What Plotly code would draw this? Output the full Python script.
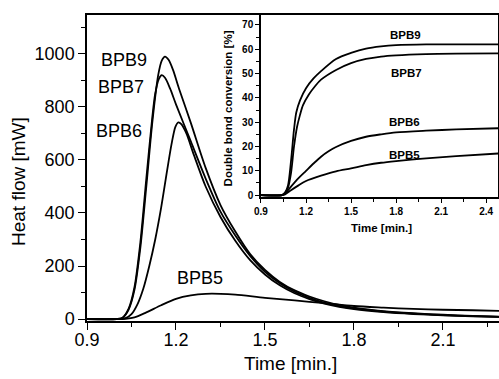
import plotly.graph_objects as go

# ---- main panel: heat flow [mW] vs time [min.] ----
t_bpb9 = [0.90, 1.00, 1.02, 1.04, 1.06, 1.08, 1.10, 1.12, 1.14, 1.152, 1.163, 1.175, 1.19, 1.21, 1.25, 1.30,
          1.35, 1.40, 1.45, 1.50, 1.55, 1.60, 1.65, 1.70, 1.75, 1.80, 1.90, 2.00, 2.10, 2.20, 2.29]
h_bpb9 = [0, 0, 5, 35, 110, 270, 500, 740, 920, 975, 990, 978, 940, 870, 740, 570,
          430, 330, 245, 185, 140, 108, 85, 67, 53, 43, 30, 22, 16, 12, 9]

t_bpb7 = [0.90, 1.00, 1.02, 1.04, 1.06, 1.08, 1.10, 1.12, 1.13, 1.142, 1.152, 1.163, 1.18, 1.20, 1.25, 1.30,
          1.35, 1.40, 1.45, 1.50, 1.55, 1.60, 1.65, 1.70, 1.75, 1.80, 1.90, 2.00, 2.10, 2.20, 2.29]
h_bpb7 = [0, 0, 5, 38, 120, 290, 530, 760, 850, 905, 920, 910, 870, 810, 670, 530,
          405, 315, 238, 178, 135, 103, 80, 62, 49, 40, 28, 20, 15, 11, 8]

t_bpb6 = [0.90, 1.00, 1.03, 1.05, 1.07, 1.09, 1.11, 1.13, 1.15, 1.17, 1.185, 1.198, 1.208, 1.218, 1.235,
          1.26, 1.30, 1.35, 1.40, 1.45, 1.50, 1.55, 1.60, 1.65, 1.70, 1.75, 1.80, 1.90, 2.00, 2.10, 2.20, 2.29]
h_bpb6 = [0, 0, 3, 18, 55, 115, 200, 300, 420, 560, 660, 725, 742, 735, 700,
          620, 500, 385, 295, 222, 168, 127, 97, 75, 58, 46, 37, 26, 19, 14, 10, 8]

t_bpb5 = [0.90, 1.00, 1.03, 1.06, 1.10, 1.15, 1.20, 1.25, 1.30, 1.35, 1.40, 1.50, 1.60, 1.70, 1.80,
          1.90, 2.00, 2.10, 2.20, 2.29]
h_bpb5 = [0, 0, 1, 6, 25, 52, 76, 89, 95, 95, 92, 80, 70, 60, 49, 43, 38, 35, 33, 31]

# ---- inset: double bond conversion [%] vs time [min.] ----
ti_bpb9 = [0.90, 1.04, 1.06, 1.08, 1.10, 1.12, 1.135, 1.16, 1.20, 1.25, 1.30, 1.40, 1.50, 1.60, 1.70,
           1.80, 2.00, 2.20, 2.48]
c_bpb9 = [0, 0, 1, 4, 14, 27, 34, 39, 44, 48, 51, 56, 58.5, 60.3, 61.2, 61.7, 62, 62, 62]

ti_bpb7 = [0.90, 1.04, 1.06, 1.08, 1.10, 1.12, 1.14, 1.16, 1.18, 1.22, 1.26, 1.30, 1.40, 1.50, 1.60,
           1.70, 1.80, 2.00, 2.20, 2.48]
c_bpb7 = [0, 0, 0.8, 3, 9, 20, 28, 33, 37, 41.5, 44.8, 47.5, 51.5, 54.3, 56, 57, 57.5, 58, 58.2, 58.3]

ti_bpb6 = [0.90, 1.04, 1.06, 1.10, 1.15, 1.20, 1.25, 1.30, 1.35, 1.40, 1.50, 1.60, 1.70, 1.80, 2.00,
           2.20, 2.48]
c_bpb6 = [0, 0, 0.5, 3.5, 7, 10, 13, 15.8, 18, 19.8, 22.3, 24, 25, 25.8, 26.5, 27, 27.5]

ti_bpb5 = [0.90, 1.04, 1.06, 1.10, 1.15, 1.20, 1.30, 1.40, 1.50, 1.60, 1.70, 1.80, 1.90, 2.00, 2.20, 2.48]
c_bpb5 = [0, 0, 0.3, 2, 4, 5.8, 8, 9.8, 11, 12.3, 13.3, 14, 14.6, 15.1, 16, 17.1]

series_names = ["BPB9", "BPB7", "BPB6", "BPB5"]
main_x_ticks = [0.9, 1.2, 1.5, 1.8, 2.1]
main_y_ticks = [0, 200, 400, 600, 800, 1000]
inset_x_ticks = [0.9, 1.2, 1.5, 1.8, 2.1, 2.4]
inset_y_ticks = [0, 10, 20, 30, 40, 50, 60, 70]

FONT = "Liberation Sans, Arial, sans-serif"
LW = 1.8

fig = go.Figure()
for tx, hy in [(t_bpb9, h_bpb9), (t_bpb7, h_bpb7), (t_bpb6, h_bpb6), (t_bpb5, h_bpb5)]:
    fig.add_trace(go.Scatter(x=tx, y=hy, mode="lines",
                             line=dict(color="black", width=LW, shape="spline", smoothing=0.8),
                             xaxis="x", yaxis="y", showlegend=False, hoverinfo="skip"))
for tx, cy in [(ti_bpb9, c_bpb9), (ti_bpb7, c_bpb7), (ti_bpb6, c_bpb6), (ti_bpb5, c_bpb5)]:
    fig.add_trace(go.Scatter(x=tx, y=cy, mode="lines",
                             line=dict(color="black", width=LW, shape="spline", smoothing=0.8),
                             xaxis="x2", yaxis="y2", showlegend=False, hoverinfo="skip"))

axis_common = dict(showgrid=False, zeroline=False, showline=True, linecolor="black", linewidth=1.5,
                   ticks="outside", tickcolor="black", tickwidth=1.3)

fig.update_layout(
    width=499, height=379,
    margin=dict(l=87, r=0, t=15, b=58),
    paper_bgcolor="white", plot_bgcolor="white",
    font=dict(family=FONT, color="black"),
    xaxis=dict(**axis_common, mirror=True, domain=[0, 1], range=[0.9, 2.289], tickvals=main_x_ticks,
               ticktext=[f"{v:.1f}" for v in main_x_ticks], ticklen=7, tickfont=dict(size=18),
               ticklabelstandoff=-5,
               minor=dict(tick0=0.9, dtick=0.15, ticks="outside", ticklen=4, tickcolor="black")),
    yaxis=dict(**axis_common, mirror=False, domain=[0, 1], range=[-7.5, 1147], tickvals=main_y_ticks,
               ticklen=7, tickfont=dict(size=18),
               minor=dict(tick0=0, dtick=100, ticks="outside", ticklen=4, tickcolor="black")),
    xaxis2=dict(**axis_common, mirror=True, domain=[0.4223, 0.998], anchor="y2", range=[0.9, 2.48],
                tickvals=inset_x_ticks, ticktext=[f"<b>{v:.1f}</b>" for v in inset_x_ticks],
                ticklen=4, tickfont=dict(size=10),
                minor=dict(tick0=0.9, dtick=0.15, ticks="outside", ticklen=3, tickcolor="black")),
    yaxis2=dict(**axis_common, mirror=True, domain=[0.405, 1], anchor="x2", range=[-0.82, 74.1],
                tickvals=inset_y_ticks, ticktext=[f"<b>{v}</b>" for v in inset_y_ticks],
                ticklen=4, tickfont=dict(size=10),
                minor=dict(tick0=0, dtick=5, ticks="outside", ticklen=3, tickcolor="black")),
)

ann = []
# axis titles
ann.append(dict(text="Time [min.]", xref="paper", yref="paper", x=0.493, y=-0.1405, showarrow=False,
                font=dict(size=19), xanchor="center", yanchor="middle"))
ann.append(dict(text="Heat flow [mW]", xref="paper", yref="paper", x=-0.1675, y=0.4575, showarrow=False,
                font=dict(size=19), textangle=-90, xanchor="center", yanchor="middle"))
ann.append(dict(text="<b>Double bond conversion [%]</b>", xref="paper", yref="paper", x=0.342, y=0.6944,
                showarrow=False, font=dict(size=11.5), textangle=-90, xanchor="center", yanchor="middle"))
ann.append(dict(text="<b>Time [min.]</b>", xref="paper", yref="paper", x=0.7136, y=0.304,
                showarrow=False, font=dict(size=11.5), xanchor="center", yanchor="middle"))
# curve labels main
main_lab_pos = [(1.026, 977), (1.015, 875), (1.0095, 709), (1.281, 155)]
for name, (lx, ly) in zip(series_names, main_lab_pos):
    ann.append(dict(text=name, xref="x", yref="y", x=lx, y=ly, showarrow=False, font=dict(size=18),
                    xanchor="center", yanchor="middle"))
inset_lab_pos = [(1.862, 65.9), (1.867, 50.2), (1.858, 30.2), (1.858, 16.5)]
for name, (lx, ly) in zip(series_names, inset_lab_pos):
    ann.append(dict(text=f"<b>{name}</b>", xref="x2", yref="y2", x=lx, y=ly, showarrow=False,
                    font=dict(size=11.5), xanchor="center", yanchor="middle"))
fig.update_layout(annotations=ann)

fig.write_html("out.html")
